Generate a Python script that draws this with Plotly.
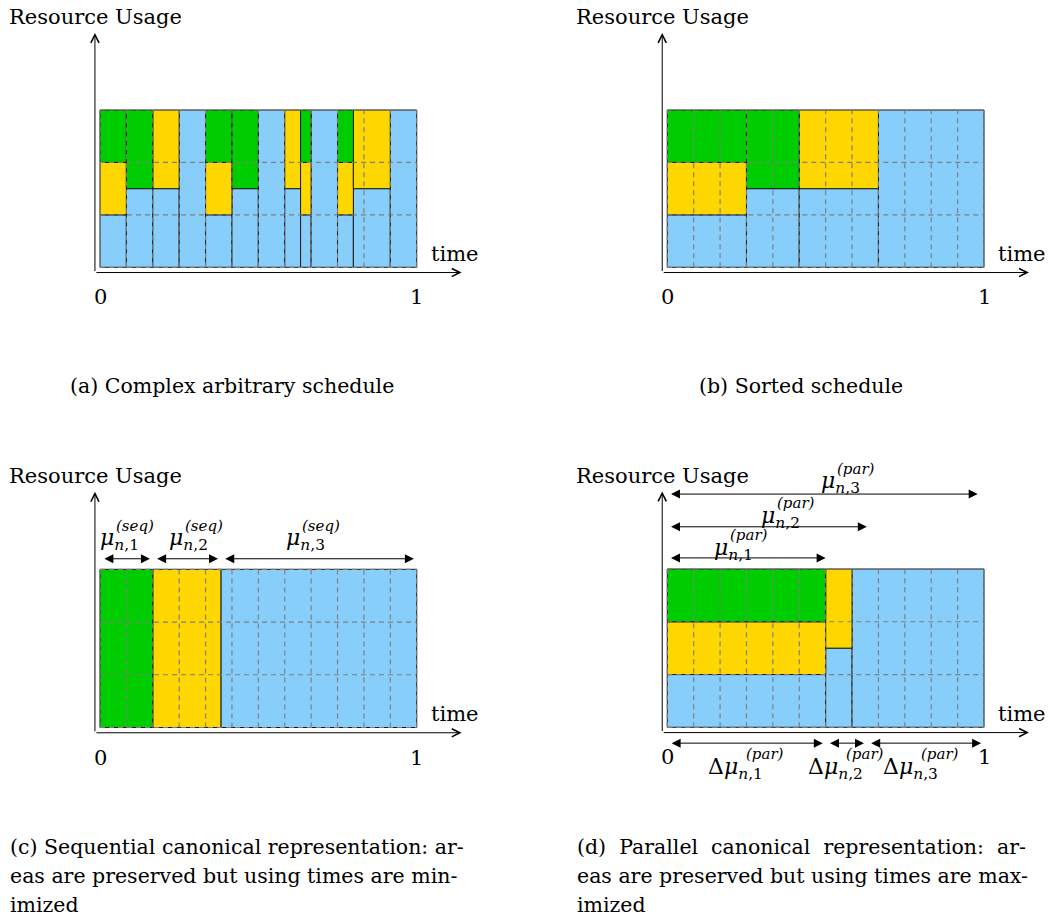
import plotly.graph_objects as go

W, H = 1051, 917
FONT = "DejaVu Serif"

# ---------------- data ----------------
GREEN, YELLOW, BLUE = "#00cd00", "#ffd700", "#87cefa"

# column edges in twelfths of the time span, stacked heights (resource units)
a_edges = [0, 1, 2, 3, 4, 5, 6, 7, 7.6, 8, 9, 9.6, 11, 12]
a_blue = [1, 1.5, 1.5, 3, 1, 1.5, 3, 1.5, 1, 3, 1, 1.5, 3]
a_yellow = [1, 0, 1.5, 0, 1, 0, 0, 1.5, 1, 0, 1, 1.5, 0]
a_green = [1, 1.5, 0, 0, 1, 1.5, 0, 0, 1, 0, 1, 0, 0]

b_edges = [0, 3, 5, 8, 12]
b_blue = [1, 1.5, 1.5, 3]
b_yellow = [1, 0, 1.5, 0]
b_green = [1, 1.5, 0, 0]

c_edges = [0, 2, 4.58, 12]
c_blue = [0, 0, 3]
c_yellow = [0, 3, 0]
c_green = [3, 0, 0]

d_edges = [0, 6, 7, 12]
d_blue = [1, 1.5, 3]
d_yellow = [1, 1.5, 0]
d_green = [1, 0, 0]

seq_mu_ends = [2 / 12, 4.58 / 12, 1.0]
par_mu_ends = [0.5, 0.63, 0.98]
par_delta_ends = [0.5, 0.63, 1.0]

seq_labels = ["1", "2", "3"]
captions_top = ["(a) Complex arbitrary schedule", "(b) Sorted schedule"]
caption_c = ["(c) Sequential canonical representation: ar-",
             "eas are preserved but using times are min-",
             "imized"]
caption_d = ["(d)  Parallel  canonical  representation:  ar-",
             "eas are preserved but using times are max-",
             "imized"]

# ---------------- layout geometry (pixels) ----------------
panels = [
    dict(px0=100, px1=416.7, py0=267.3, py3=110, dom=(0, 520, 0, 330)),
    dict(px0=667.3, px1=984, py0=267.3, py3=110, dom=(560, 1051, 0, 330)),
    dict(px0=100, px1=416.7, py0=727.5, py3=569.3, dom=(0, 520, 455, 800)),
    dict(px0=667.3, px1=984, py0=727.3, py3=569, dom=(560, 1051, 455, 800)),
]

fig = go.Figure()
layout = {}
ann = []


def axnames(i):
    s = "" if i == 0 else str(i + 1)
    return "x" + s, "y" + s, "xaxis" + s, "yaxis" + s


for i, p in enumerate(panels):
    xa, ya, xk, yk = axnames(i)
    L, R, T, B = p["dom"]
    sx = p["px1"] - p["px0"]
    sy = (p["py0"] - p["py3"]) / 3
    layout[xk] = dict(domain=[L / W, R / W], range=[(L - p["px0"]) / sx, (R - p["px0"]) / sx],
                      visible=False, anchor=ya)
    layout[yk] = dict(domain=[1 - B / H, 1 - T / H], range=[(p["py0"] - B) / sy, (p["py0"] - T) / sy],
                      visible=False, anchor=xa)


def add_blocks(i, edges, blue, yellow, green):
    xa, ya, _, _ = axnames(i)
    n = len(blue)
    left = [edges[k] / 12 for k in range(n)]
    width = [(edges[k + 1] - edges[k]) / 12 for k in range(n)]
    bases = {BLUE: [0] * n, YELLOW: blue, GREEN: [blue[k] + yellow[k] for k in range(n)]}
    for col, hts in ((BLUE, blue), (YELLOW, yellow), (GREEN, green)):
        idx = [k for k in range(n) if hts[k] > 0]
        fig.add_trace(go.Bar(
            x=[left[k] for k in idx], y=[hts[k] for k in idx], base=[bases[col][k] for k in idx],
            width=[width[k] for k in idx], offset=0, xaxis=xa, yaxis=ya,
            marker=dict(color=col, line=dict(color="#1a1a1a", width=1)),
            showlegend=False, hoverinfo="skip"))
    # dashed grid on top
    gx, gy = [], []
    for k in range(13):
        gx += [k / 12, k / 12, None]
        gy += [0, 3, None]
    for r in range(4):
        gx += [0, 1, None]
        gy += [r, r, None]
    fig.add_trace(go.Scatter(x=gx, y=gy, mode="lines", xaxis=xa, yaxis=ya,
                             line=dict(color="#7f7f7f", width=1.2, dash="5px,4px"),
                             showlegend=False, hoverinfo="skip"))


add_blocks(0, a_edges, a_blue, a_yellow, a_green)
add_blocks(1, b_edges, b_blue, b_yellow, b_green)
add_blocks(2, c_edges, c_blue, c_yellow, c_green)
add_blocks(3, d_edges, d_blue, d_yellow, d_green)


def arrow(i, x0, y0, x1, y1, both=False, open_head=False):
    xa, ya, _, _ = axnames(i)
    d = dict(xref=xa, yref=ya, axref=xa, ayref=ya, x=x1, y=y1, ax=x0, ay=y0, text="",
             showarrow=True, arrowcolor="black", arrowwidth=1)
    if open_head:
        d.update(arrowhead=5, arrowsize=1.6)
    else:
        d.update(arrowhead=2, arrowsize=1.8)
    if both:
        d.update(arrowside="end+start", startarrowhead=2, startarrowsize=1.8)
    ann.append(d)


def text(i, x, y, s, size=21, xanchor="center", xshift=0, yshift=0):
    xa, ya, _, _ = axnames(i)
    ann.append(dict(xref=xa, yref=ya, x=x, y=y, text=s, showarrow=False, xanchor=xanchor,
                    yanchor="middle", xshift=xshift, yshift=yshift,
                    font=dict(family=FONT, size=size, color="black")))


def math(i, x, y, base, idx, sup, sup_dx):
    text(i, x, y, base + "<sub><i>n</i>,%s</sub>" % idx, size=22, xanchor="left")
    text(i, x, y, "<i>(%s)</i>" % sup, size=15, xanchor="left", xshift=sup_dx, yshift=14)


# axes, axis labels
for i in range(4):
    arrow(i, -0.016, -0.1, 1.142, -0.1, open_head=True)
    arrow(i, -0.016, -0.1, -0.016, 4.47, open_head=True)
    text(i, -0.015, 4.77, "Resource Usage")
    text(i, 1.12, 0.25, "time")
    text(i, 0, -0.57, "0")
    text(i, 1, -0.57, "1")

# (c) sequential mu arrows
gap = 0.009
starts = [0] + seq_mu_ends[:-1]
seq_label_x = [-0.006, 0.211, 0.58]
for k in range(3):
    arrow(2, starts[k] + gap, 3.2, seq_mu_ends[k] - gap, 3.2, both=True)
    math(2, seq_label_x[k], 3.56, "<i>μ</i>", seq_labels[k], "seq", 16)

# (d) parallel mu arrows
par_y = [3.21, 3.80, 4.42]
par_label = [(0.142, 3.37), (0.291, 3.98), (0.478, 4.63)]
for k in range(3):
    arrow(3, 0.007, par_y[k], par_mu_ends[k], par_y[k], both=True)
    math(3, par_label[k][0], par_label[k][1], "<i>μ</i>", seq_labels[k], "par", 16)

dstarts = [0] + par_delta_ends[:-1]
delta_label_x = [0.122, 0.438, 0.675]
for k in range(3):
    arrow(3, dstarts[k] + gap, -0.3, par_delta_ends[k] - gap, -0.3, both=True)
    math(3, delta_label_x[k], -0.78, "Δ<i>μ</i>", seq_labels[k], "par", 38)

# captions
def cap(px, py, s, xanchor):
    ann.append(dict(xref="paper", yref="paper", x=px / W, y=1 - py / H, text=s, showarrow=False,
                    xanchor=xanchor, yanchor="middle",
                    font=dict(family=FONT, size=20.5, color="black")))


cap(232, 386, captions_top[0], "center")
cap(801, 386, captions_top[1], "center")
for j, (lc, ld) in enumerate(zip(caption_c, caption_d)):
    cap(8, 847 + 29 * j, lc, "left")
    cap(575, 847 + 29 * j, ld, "left")

fig.update_layout(width=W, height=H, margin=dict(l=0, r=0, t=0, b=0),
                  paper_bgcolor="white", plot_bgcolor="rgba(0,0,0,0)",
                  barmode="overlay", annotations=ann, **layout)
fig.write_html("out.html")
